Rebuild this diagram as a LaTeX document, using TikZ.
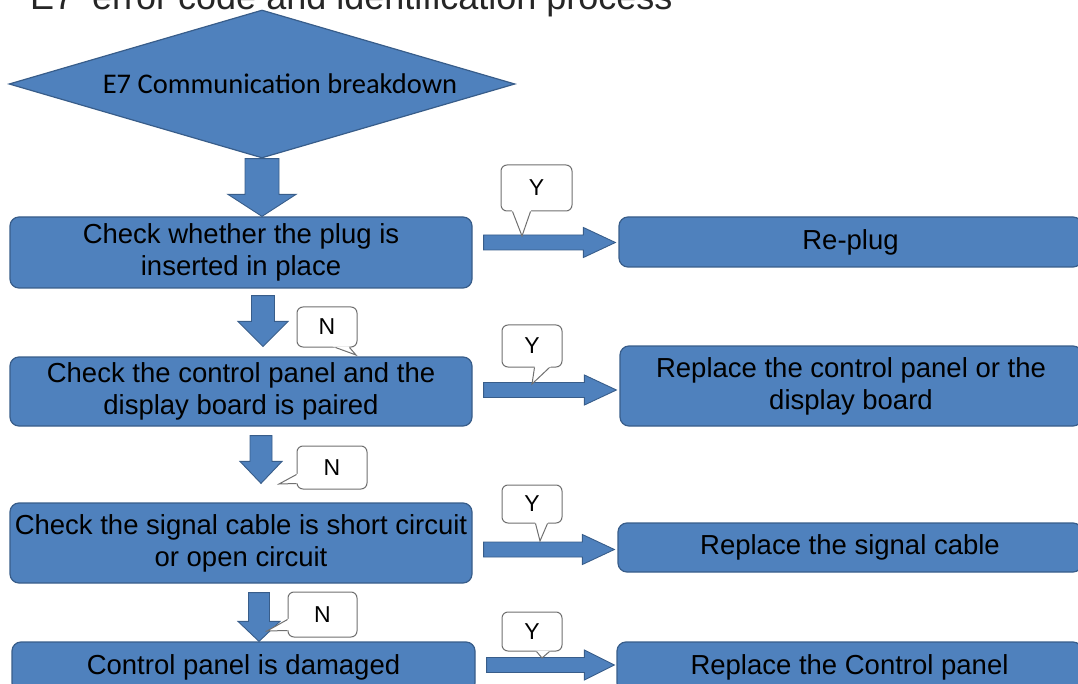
\documentclass[tikz,border=0pt]{standalone}
\usepackage{fontspec}
\setmainfont{Liberation Sans}
\newfontfamily\calib{Carlito}
\usetikzlibrary{shapes.geometric,calc}
\definecolor{boxfill}{HTML}{4F81BD}
\definecolor{boxline}{HTML}{385D8A}
\definecolor{callline}{HTML}{707070}
\newcommand{\downblock}[5]{%
  \filldraw[barrow] let \p1=#1, \p2=#2 in
   (\x1-#3,\y1) -- (\x1+#3,\y1) -- (\x1+#3,\y2+#5) -- (\x1+#4,\y2+#5) -- (\x1,\y2)
   -- (\x1-#4,\y2+#5) -- (\x1-#3,\y2+#5) -- cycle;}
\newcommand{\rightblock}[5]{%
  \filldraw[barrow] let \p1=#1, \p2=#2 in
   (\x1,\y2+#3) -- (\x2-#5,\y2+#3) -- (\x2-#5,\y2+#4) -- (\x2,\y2)
   -- (\x2-#5,\y2-#4) -- (\x2-#5,\y2-#3) -- (\x1,\y2-#3) -- cycle;}
\newcommand{\calltail}[3]{%
  \fill[white] ($#2!1.15!#1$) -- #2 -- ($#2!1.15!#3$) -- cycle;
  \draw[callborder] #1 -- #2 -- #3;}
\begin{document}
\begin{tikzpicture}[x=1pt,y=-1pt,
  flow/.style={draw=boxline, fill=boxfill, line width=1.2pt, rounded corners=9pt,
    inner sep=0pt, align=center, text=black, font=\fontsize{27.5}{32}\selectfont},
  dec/.style={diamond, draw=boxline, fill=boxfill, line width=1.2pt, inner sep=0pt,
    aspect=3.42, minimum width=506pt, minimum height=148pt,
    font=\calib\fontsize{28.5}{32}\selectfont, text=black},
  callout/.style={draw=callline, fill=white, line width=1pt, rounded corners=6pt,
    inner sep=0pt, font=\fontsize{23}{26}\selectfont},
  callborder/.style={draw=callline, line width=1pt, line join=miter},
  barrow/.style={draw=boxline, fill=boxfill, line width=0.9pt, line join=miter}]
\useasboundingbox (0,0) rectangle (1078,684);

% title (cut off at top, as in the reference)
\node[anchor=base west, inner sep=0pt, font=\fontsize{36}{40}\selectfont, text=black!85] (title) at (30,10) {E7\enspace error code and identification process};

% decision
\node[dec] (d) at (262,84) {\hspace*{36pt}E7 Communication breakdown};

% left column
\node[flow, minimum width=462pt, minimum height=71pt] (b1) at (241,252.5) {Check whether the plug is\\inserted in place};
\node[flow, minimum width=462pt, minimum height=69pt] (b2) at (241,391.5) {Check the control panel and the\\display board is paired};
\node[flow, minimum width=462pt, minimum height=80pt] (b3) at (241,543) {Check the signal cable is short circuit\\or open circuit};
\node[flow, minimum width=463pt, minimum height=50pt] (b4) at (243.5,667) {Control panel is damaged};

% right column
\node[flow, minimum width=463pt, minimum height=50pt] (r1) at (850.5,242) {Re-plug};
\node[flow, minimum width=462pt, minimum height=80pt] (r2) at (851,386) {Replace the control panel or the\\display board};
\node[flow, minimum width=464pt, minimum height=49pt] (r3) at (850,547.5) {Replace the signal cable};
\node[flow, minimum width=465pt, minimum height=50pt] (r4) at (849.5,667) {Replace the Control panel};

% down block arrows
\coordinate (a0s) at (d.south);
\coordinate (a0t) at (d.south |- b1.north);
\downblock{(a0s)}{(a0t)}{17pt}{34pt}{22pt}
\coordinate (a1s) at ($(d.south |- b1.south)+(1,7)$);
\coordinate (a1t) at ($(d.south |- b2.north)+(1,-10)$);
\downblock{(a1s)}{(a1t)}{11.5pt}{25pt}{25pt}
\coordinate (a2s) at ($(d.south |- b2.south)+(-1,9)$);
\coordinate (a2t) at ($(d.south |- b3.north)+(-1,-19)$);
\downblock{(a2s)}{(a2t)}{11pt}{21pt}{22pt}
\coordinate (a3s) at ($(d.south |- b3.south)+(-3,9)$);
\coordinate (a3t) at ($(d.south |- b4.north)+(-3,0)$);
\downblock{(a3s)}{(a3t)}{10.5pt}{21pt}{20pt}

% right block arrows
\coordinate (h1t) at ($(r1.west)+(-3,0.5)$);
\coordinate (h1s) at ($(b1.east |- h1t)+(11,0)$);
\rightblock{(h1s)}{(h1t)}{7.5pt}{15pt}{32pt}
\coordinate (h2t) at ($(r2.west)+(-3,4)$);
\coordinate (h2s) at ($(b2.east |- h2t)+(11,0)$);
\rightblock{(h2s)}{(h2t)}{7.5pt}{15pt}{32pt}
\coordinate (h3t) at ($(r3.west)+(-3,2)$);
\coordinate (h3s) at ($(b3.east |- h3t)+(11,0)$);
\rightblock{(h3s)}{(h3t)}{7.5pt}{15pt}{32pt}
\coordinate (h4t) at ($(r4.west)+(-2,-2)$);
\coordinate (h4s) at ($(b4.east |- h4t)+(11,0)$);
\rightblock{(h4s)}{(h4t)}{7.5pt}{15pt}{30pt}

% callouts
\node[callout, minimum width=71pt, minimum height=46pt] (y1) at (536.5,188) {Y};
\coordinate (y1p) at (522,236);
\calltail{($(y1.south west)+(12,0)$)}{(y1p)}{($(y1.south west)+(30,0)$)}

\node[callout, minimum width=60pt, minimum height=40pt] (n1) at (327,327) {N};
\coordinate (n1p) at (356,355);
\calltail{($(n1.south west)+(39,0)$)}{(n1p)}{($(n1.south west)+(53,0)$)}

\node[callout, minimum width=60pt, minimum height=42pt] (y2) at (532,346) {Y};
\coordinate (y2p) at (532,384);
\calltail{($(y2.south west)+(33,0)$)}{(y2p)}{($(y2.south west)+(48,0)$)}

\node[callout, minimum width=70pt, minimum height=43pt] (n2) at (332,467.5) {N};
\coordinate (n2p) at (279,484);
\calltail{($(n2.south west)+(0,-15)$)}{(n2p)}{($(n2.south west)+(0,-6)$)}

\node[callout, minimum width=60pt, minimum height=38pt] (y3) at (532,504) {Y};
\coordinate (y3p) at (540,541);
\calltail{($(y3.south west)+(34,0)$)}{(y3p)}{($(y3.south west)+(46,0)$)}

\node[callout, minimum width=69pt, minimum height=45pt] (n3) at (322.5,614.5) {N};
\coordinate (n3p) at (267,631);
\calltail{($(n3.south west)+(0,-18)$)}{(n3p)}{($(n3.south west)+(0,-7)$)}

\node[callout, minimum width=60pt, minimum height=39pt] (y4) at (532,631.5) {Y};
\coordinate (y4p) at (542,658);
\calltail{($(y4.south west)+(35,0)$)}{(y4p)}{($(y4.south west)+(48,0)$)}
\end{tikzpicture}
\end{document}
